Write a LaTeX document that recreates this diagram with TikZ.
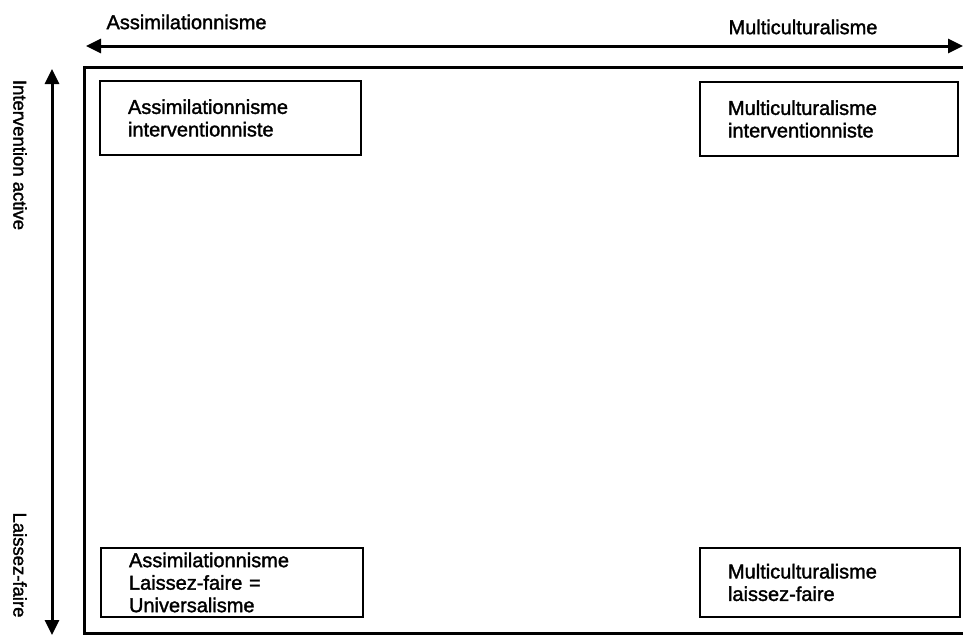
\documentclass[tikz,border=0pt]{standalone}
\usepackage{fontspec}
\setmainfont{Liberation Sans}[FakeBold=1.6]
\usetikzlibrary{arrows.meta}
\begin{document}
\begin{tikzpicture}[x=1pt,y=-1pt,
  axis/.style={line width=3pt,{Triangle[length=15pt,width=14pt]}-{Triangle[length=15pt,width=14pt]}},
  frame/.style={line width=3pt},
  quad/.style={draw,line width=2.8pt,rectangle,align=left,inner xsep=28pt,inner ysep=0pt,
    font=\fontsize{20}{22.5}\selectfont},
  toplab/.style={anchor=west,font=\fontsize{20}{24}\selectfont},
  sidelab/.style={rotate=-90,font=\fontsize{18.5}{22}\selectfont}]
\useasboundingbox (0,0) rectangle (963,635);
\fill[white] (0,0) rectangle (963,635);
% axes
\coordinate (hl) at (86,46);
\coordinate (hr) at (963,46);
\draw[axis] (hl) -- (hr);
\coordinate (vt) at (52,69);
\coordinate (vb) at (52,635);
\draw[axis] (vt) -- (vb);
% frame
\coordinate (f1) at (84,67);
\coordinate (f2) at (975,633);
\draw[frame] (f1) rectangle (f2);
% axis labels
\node[toplab] (la) at (103,22) {Assimilationnisme};
\node[toplab] (lm) at (725,27) {Multiculturalisme};
\node[sidelab] (li) at (20,155) {Intervention active};
\node[sidelab] (ll) at (20,565) {Laissez-faire};
% quadrant boxes
\node[quad,text width=205pt,minimum height=74pt] (tl) at (230.5,118) {Assimilationnisme\\interventionniste};
\node[quad,text width=202pt,minimum height=74pt] (tr) at (829,119) {Multiculturalisme\\interventionniste};
\node[quad,text width=206pt,minimum height=69pt] (bl) at (232,582.5) {Assimilationnisme\\Laissez-faire =\\Universalisme};
\node[quad,text width=204pt,minimum height=69pt] (br) at (830,582.5) {Multiculturalisme\\laissez-faire};
\end{tikzpicture}
\end{document}
